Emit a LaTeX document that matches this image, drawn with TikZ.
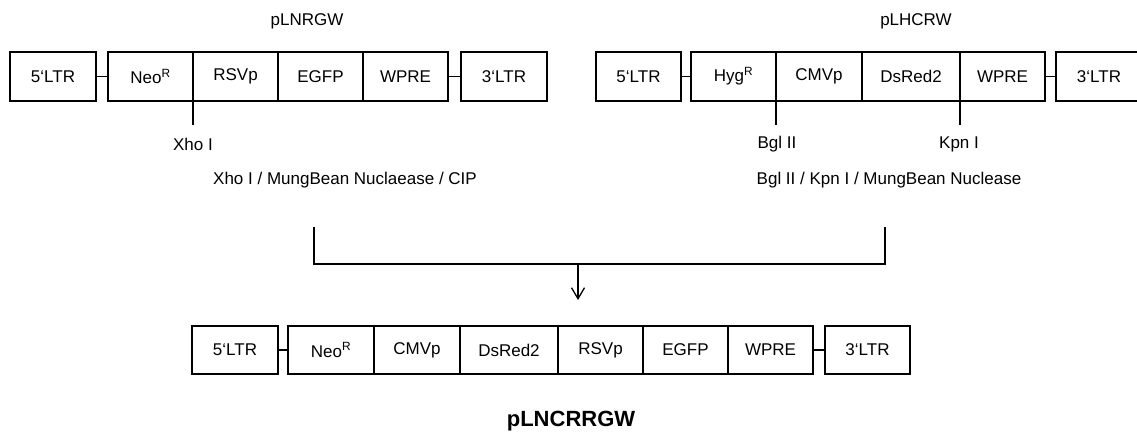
\documentclass[tikz,border=0pt]{standalone}
\usepackage{fontspec}
\setmainfont{Liberation Sans}
\usetikzlibrary{arrows.meta}
\newcommand\grv{{\char"0060\relax}}
\begin{document}
\begin{tikzpicture}[x=1pt,y=-1pt,line width=1.3pt,
  seg/.style={draw, rectangle, inner sep=0pt, outer sep=0pt, minimum height=49pt, minimum width=#1,
    font=\fontsize{17}{20}\selectfont},
  lbl/.style={inner sep=0pt, font=\fontsize{17}{20}\selectfont}]
\useasboundingbox (0,0) rectangle (1137,434);
\clip (0,0) rectangle (1137,434);

% ---- top left: pLNRGW
\node[lbl] (tA) at (307,21) {pLNRGW};
\node[seg=86pt] (a1) at (53,76.5) {5\grv LTR};
\node[seg=85pt] (a2) at (150.5,76.5) {Neo\textsuperscript{R}};
\node[seg=85pt] (a3) at (235.5,76.5) {RSVp};
\node[seg=85pt] (a4) at (320.5,76.5) {EGFP};
\node[seg=85pt] (a5) at (405.5,76.5) {WPRE};
\node[seg=86pt] (a6) at (504,76.5) {3\grv LTR};
\draw (a1.east) -- (a2.west);
\draw (a5.east) -- (a6.west);
\coordinate (xc) at (193,125);
\draw (a2.south east) -- (xc);
\node[lbl] (xho) at (193,144) {Xho I};
\node[lbl] (ta) at (345,180) {Xho I / MungBean Nuclaease / CIP};

% ---- top right: pLHCRW
\node[lbl] (tB) at (916,21) {pLHCRW};
\node[seg=85pt] (b1) at (638.5,76.5) {5\grv LTR};
\node[seg=85pt] (b2) at (733.5,76.5) {Hyg\textsuperscript{R}};
\node[seg=86pt] (b3) at (819,76.5) {CMVp};
\node[seg=98pt] (b4) at (911,76.5) {DsRed2};
\node[seg=85pt] (b5) at (1002.5,76.5) {WPRE};
\node[seg=86pt] (b6) at (1099,76.5) {3\grv LTR};
\draw (b1.east) -- (b2.west);
\draw (b5.east) -- (b6.west);
\coordinate (bc) at (776,125);
\coordinate (kc) at (960,125);
\draw (b2.south east) -- (bc);
\draw (b4.south east) -- (kc);
\node[lbl] (bgl) at (777,144) {Bgl II};
\node[lbl] (kpn) at (959,144) {Kpn I};
\node[lbl] (tb) at (889,180) {Bgl II / Kpn I / MungBean Nuclease};

% ---- join bracket and arrow
\coordinate (j1) at (314,227);
\coordinate (j2) at (314,264);
\coordinate (j3) at (885,264);
\coordinate (j4) at (885,227);
\draw (j1) -- (j2) -- (j3) -- (j4);
\coordinate (ar1) at (578,264);
\coordinate (ar2) at (578,300);
\draw[-{Straight Barb[length=11pt,width=13pt]}] (ar1) -- (ar2);

% ---- bottom: pLNCRRGW
\node[seg=86pt,minimum height=48pt] (c1) at (235,350) {5\grv LTR};
\node[seg=86pt,minimum height=48pt] (c2) at (331,350) {Neo\textsuperscript{R}};
\node[seg=86pt,minimum height=48pt] (c3) at (417,350) {CMVp};
\node[seg=98pt,minimum height=48pt] (c4) at (509,350) {DsRed2};
\node[seg=85pt,minimum height=48pt] (c5) at (600.5,350) {RSVp};
\node[seg=85pt,minimum height=48pt] (c6) at (685.5,350) {EGFP};
\node[seg=85pt,minimum height=48pt] (c7) at (770.5,350) {WPRE};
\node[seg=85pt,minimum height=48pt] (c8) at (867.5,350) {3\grv LTR};
\draw (c1.east) -- (c2.west);
\draw (c7.east) -- (c8.west);
\node[lbl, font=\fontsize{22}{26}\selectfont\bfseries] (tc) at (571,421) {pLNCRRGW};
\end{tikzpicture}
\end{document}
